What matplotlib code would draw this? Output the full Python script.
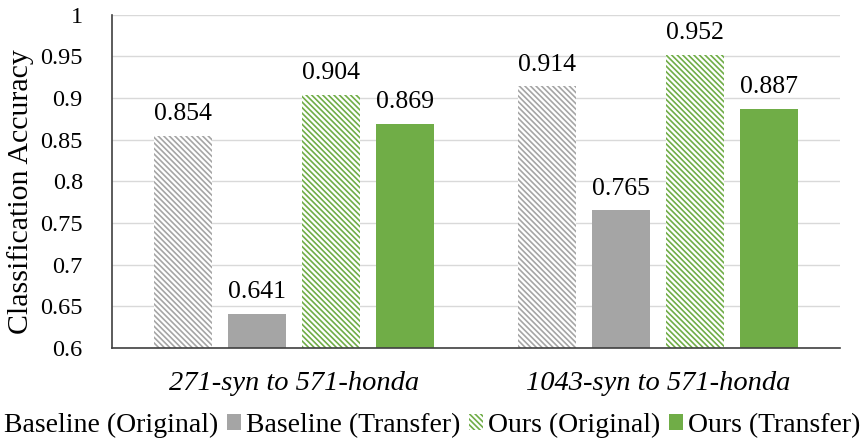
import matplotlib
matplotlib.use("Agg")
import matplotlib.pyplot as plt
import numpy as np

plt.rcParams['font.family'] = ['Liberation Serif', 'DejaVu Serif']
plt.rcParams['hatch.linewidth'] = 1.2

# Data
categories = ["271-syn to 571-honda", "1043-syn to 571-honda"]
series = ["Baseline (Original)", "Baseline (Transfer)", "Ours (Original)", "Ours (Transfer)"]
baseline_orig = [0.854, 0.914]
baseline_trans = [0.641, 0.765]
ours_orig = [0.904, 0.952]
ours_trans = [0.869, 0.887]
values = [baseline_orig, baseline_trans, ours_orig, ours_trans]

gray = "#A5A5A5"
green = "#70AD47"
styles = [
    dict(color="white", edgecolor=gray, hatch="\\" * 6, linewidth=0),
    dict(color=gray),
    dict(color="white", edgecolor=green, hatch="\\" * 6, linewidth=0),
    dict(color=green),
]

fig = plt.figure(figsize=(8.68, 4.47), dpi=100)
ax = fig.add_axes([0.129, 0.222, 0.839, 0.745])

x = np.arange(len(categories))
step = 0.203
width = 0.16
for i, (name, vals) in enumerate(zip(series, values)):
    pos = x + (i - 1.5) * step
    ax.bar(pos, vals, width, label=name, zorder=2, **styles[i])
    for p, v in zip(pos, vals):
        ax.text(p, v + 0.013, f"{v:.3f}", ha="center", va="bottom", fontsize=18.5)

ax.set_ylim(0.6, 1.0)
ax.set_xlim(-0.5, 1.5)
ax.set_yticks(np.arange(0.6, 1.001, 0.05))
ax.set_yticklabels(["0.6", "0.65", "0.7", "0.75", "0.8", "0.85", "0.9", "0.95", "1"], fontsize=17.5)
ax.set_xticks(x)
ax.set_xticklabels(categories, fontsize=20.5, style="italic")
ax.tick_params(axis="y", length=0, pad=21)
ax.tick_params(axis="x", length=0, pad=17)
ax.set_ylabel("Classification Accuracy", fontsize=21.5)
ax.yaxis.set_label_coords(-0.107, 0.468)

ax.grid(axis="y", color="#D9D9D9", linewidth=1, zorder=0)
ax.set_axisbelow(True)
for s in ["top", "right"]:
    ax.spines[s].set_visible(False)
ax.spines["left"].set_color("#404040")
ax.spines["bottom"].set_color("#404040")
ax.spines["left"].set_linewidth(1.2)
ax.spines["bottom"].set_linewidth(1.2)

fig.legend(loc="center", bbox_to_anchor=(0.487, 0.049), ncol=4, frameon=False,
           fontsize=20, handlelength=0.5, handleheight=0.5, handletextpad=0.2,
           columnspacing=0.3, borderaxespad=0)

fig.savefig("out.png", dpi=100)
